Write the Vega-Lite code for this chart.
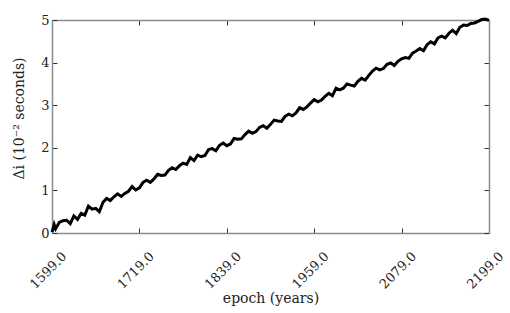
{
  "$schema": "https://vega.github.io/schema/vega-lite/v6.json",
  "autosize": "none",
  "width": 437,
  "height": 213,
  "padding": {"left": 52, "top": 20, "right": 21, "bottom": 80},
  "background": "white",
  "config": {
    "view": {"stroke": null},
    "axis": {
      "labelFont": "DejaVu Serif",
      "titleFont": "DejaVu Serif",
      "labelFontSize": 13,
      "titleFontSize": 14,
      "labelColor": "#222",
      "titleColor": "#222",
      "titleFontWeight": "normal",
      "domainColor": "#8a8a8a",
      "domainWidth": 1.5,
      "tickColor": "#333",
      "tickSize": -5,
      "tickWidth": 1,
      "grid": false
    }
  },
  "data": {
    "values": [
      {"year": 1599, "v": 0.02}, {"year": 1602, "v": 0.20}, {"year": 1604, "v": 0.10}, {"year": 1609, "v": 0.25}, {"year": 1614, "v": 0.29},
      {"year": 1619, "v": 0.30}, {"year": 1624, "v": 0.22}, {"year": 1629, "v": 0.40}, {"year": 1634, "v": 0.32},
      {"year": 1639, "v": 0.46}, {"year": 1644, "v": 0.42}, {"year": 1649, "v": 0.63}, {"year": 1654, "v": 0.56},
      {"year": 1659, "v": 0.58}, {"year": 1664, "v": 0.50}, {"year": 1669, "v": 0.72}, {"year": 1674, "v": 0.81},
      {"year": 1679, "v": 0.76}, {"year": 1684, "v": 0.85}, {"year": 1689, "v": 0.92}, {"year": 1694, "v": 0.86},
      {"year": 1699, "v": 0.93}, {"year": 1704, "v": 0.98}, {"year": 1709, "v": 1.09}, {"year": 1714, "v": 1.01},
      {"year": 1719, "v": 1.06}, {"year": 1724, "v": 1.19}, {"year": 1729, "v": 1.24}, {"year": 1734, "v": 1.19},
      {"year": 1739, "v": 1.27}, {"year": 1744, "v": 1.38}, {"year": 1749, "v": 1.35}, {"year": 1754, "v": 1.36},
      {"year": 1759, "v": 1.47}, {"year": 1764, "v": 1.53}, {"year": 1769, "v": 1.49}, {"year": 1774, "v": 1.58},
      {"year": 1779, "v": 1.64}, {"year": 1784, "v": 1.61}, {"year": 1789, "v": 1.77}, {"year": 1794, "v": 1.70},
      {"year": 1799, "v": 1.83}, {"year": 1804, "v": 1.79}, {"year": 1809, "v": 1.82}, {"year": 1814, "v": 1.96},
      {"year": 1819, "v": 1.98}, {"year": 1824, "v": 1.93}, {"year": 1829, "v": 2.06}, {"year": 1834, "v": 2.11},
      {"year": 1839, "v": 2.05}, {"year": 1844, "v": 2.09}, {"year": 1849, "v": 2.22}, {"year": 1854, "v": 2.20},
      {"year": 1859, "v": 2.21}, {"year": 1864, "v": 2.31}, {"year": 1869, "v": 2.39}, {"year": 1874, "v": 2.34},
      {"year": 1879, "v": 2.38}, {"year": 1884, "v": 2.48}, {"year": 1889, "v": 2.52}, {"year": 1894, "v": 2.46},
      {"year": 1899, "v": 2.55}, {"year": 1904, "v": 2.65}, {"year": 1909, "v": 2.63}, {"year": 1914, "v": 2.62},
      {"year": 1919, "v": 2.74}, {"year": 1924, "v": 2.79}, {"year": 1929, "v": 2.75}, {"year": 1934, "v": 2.82},
      {"year": 1939, "v": 2.94}, {"year": 1944, "v": 2.90}, {"year": 1949, "v": 2.96}, {"year": 1954, "v": 3.05},
      {"year": 1959, "v": 3.13}, {"year": 1964, "v": 3.08}, {"year": 1969, "v": 3.12}, {"year": 1974, "v": 3.21},
      {"year": 1979, "v": 3.28}, {"year": 1984, "v": 3.22}, {"year": 1989, "v": 3.40}, {"year": 1994, "v": 3.36},
      {"year": 1999, "v": 3.40}, {"year": 2004, "v": 3.50}, {"year": 2009, "v": 3.47}, {"year": 2014, "v": 3.45},
      {"year": 2019, "v": 3.56}, {"year": 2024, "v": 3.63}, {"year": 2029, "v": 3.59}, {"year": 2034, "v": 3.70},
      {"year": 2039, "v": 3.80}, {"year": 2044, "v": 3.87}, {"year": 2049, "v": 3.83}, {"year": 2054, "v": 3.86},
      {"year": 2059, "v": 3.96}, {"year": 2064, "v": 3.99}, {"year": 2069, "v": 3.93}, {"year": 2074, "v": 4.03},
      {"year": 2079, "v": 4.09}, {"year": 2084, "v": 4.12}, {"year": 2089, "v": 4.10}, {"year": 2094, "v": 4.22},
      {"year": 2099, "v": 4.27}, {"year": 2104, "v": 4.33}, {"year": 2109, "v": 4.28}, {"year": 2114, "v": 4.42},
      {"year": 2119, "v": 4.49}, {"year": 2124, "v": 4.44}, {"year": 2129, "v": 4.58}, {"year": 2134, "v": 4.62},
      {"year": 2139, "v": 4.58}, {"year": 2144, "v": 4.69}, {"year": 2149, "v": 4.76}, {"year": 2154, "v": 4.68},
      {"year": 2159, "v": 4.83}, {"year": 2164, "v": 4.88}, {"year": 2169, "v": 4.87}, {"year": 2174, "v": 4.92},
      {"year": 2179, "v": 4.93}, {"year": 2184, "v": 4.97}, {"year": 2189, "v": 5.01}, {"year": 2194, "v": 5.02},
      {"year": 2199, "v": 4.99}
    ]
  },
  "layer": [
    {
      "mark": {"type": "line", "color": "black", "strokeWidth": 3, "strokeJoin": "miter", "clip": false},
      "encoding": {
        "x": {
          "field": "year", "type": "quantitative",
          "scale": {"domain": [1599, 2199], "nice": false, "zero": false},
          "axis": {
            "orient": "bottom",
            "values": [1599, 1719, 1839, 1959, 2079, 2199],
            "format": ".1f",
            "labelAngle": -45,
            "labelAlign": "center",
            "labelBaseline": "middle",
            "labelPadding": 42,
            "labelOffset": -4,
            "labelFlush": false,
            "labelOverlap": false,
            "title": "epoch (years)",
            "titlePadding": 0
          }
        },
        "y": {
          "field": "v", "type": "quantitative",
          "scale": {"domain": [0, 5], "nice": false},
          "axis": {
            "orient": "left",
            "values": [0, 1, 2, 3, 4, 5],
            "format": "d",
            "labelPadding": 8,
            "title": "Δi (10⁻² seconds)",
            "titlePadding": 14,
            "titleY": 98
          }
        }
      }
    },
    {
      "mark": {"type": "line", "opacity": 0},
      "encoding": {
        "x": {
          "field": "year", "type": "quantitative",
          "scale": {"domain": [1599, 2199], "nice": false, "zero": false},
          "axis": {"orient": "top", "values": [1599, 1719, 1839, 1959, 2079, 2199], "labels": false, "title": null}
        },
        "y": {
          "field": "v", "type": "quantitative",
          "scale": {"domain": [0, 5], "nice": false},
          "axis": {"orient": "right", "values": [0, 1, 2, 3, 4, 5], "labels": false, "title": null}
        }
      }
    }
  ],
  "resolve": {"axis": {"x": "independent", "y": "independent"}}
}
